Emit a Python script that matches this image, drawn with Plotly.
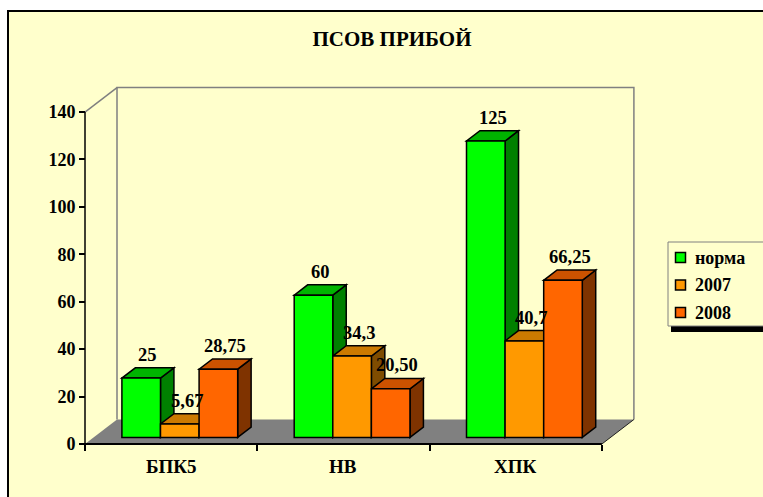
import plotly.graph_objects as go

# ---------------- data ----------------
categories = ["БПК5", "НВ", "ХПК"]
series_names = ["норма", "2007", "2008"]
norma = [25, 60, 125]
y2007 = [5.67, 34.3, 40.7]
y2008 = [28.75, 20.5, 66.25]
labels_norma = ["25", "60", "125"]
labels_2007 = ["5,67", "34,3", "40,7"]
labels_2008 = ["28,75", "20,50", "66,25"]
y_ticks = [0, 20, 40, 60, 80, 100, 120, 140]
title_text = "ПСОВ ПРИБОЙ"

series_values = [norma, y2007, y2008]
series_labels = [labels_norma, labels_2007, labels_2008]

# ---------------- styling / geometry ----------------
FRONT = ["#00FF00", "#FF9900", "#FF6600"]
TOP = ["#00B400", "#CC7A00", "#CC5200"]
SIDE = ["#008000", "#7F4C00", "#7F3300"]
BG = "#FFFFCC"
FONT = "Liberation Serif"

W, H = 763, 497              # figure size (page body margin removed below)
ORX, ORY = 85, 444           # pixel of data origin (front corner)
PPX, PPY = 172.3, 2.371      # pixels per data unit
L, RPX, TPX, BPX = 81, 637, 84, 448   # plot area box, pixels
pw, ph = RPX - L, BPX - TPX
xr = [(L - ORX) / PPX, (RPX - ORX) / PPX]
yr = [(ORY - BPX) / PPY, (ORY - TPX) / PPY]

DX, DY = 32 / PPX, 24.5 / PPY
F0, FD = 0.27, 0.42
ox, oy = F0 * DX, F0 * DY
bdx, bdy = FD * DX, FD * DY
BW = 0.224
ncat = len(categories)


def pxx(p):
    return (p - L) / pw


def pxy(p):
    return (BPX - p) / ph


fig = go.Figure()

shapes = []
# frame
shapes.append(dict(type="rect", xref="paper", yref="paper",
                   x0=pxx(8), x1=pxx(800), y0=pxy(11), y1=pxy(530),
                   fillcolor=BG, line=dict(color="black", width=2), layer="below"))
# floor
shapes.append(dict(type="path", xref="x", yref="y",
                   path=f"M 0,0 L {ncat},0 L {ncat+DX},{DY} L {DX},{DY} Z",
                   fillcolor="#808080", line=dict(width=0), layer="below"))
# back wall outline
top = y_ticks[-1]
shapes.append(dict(type="path", xref="x", yref="y",
                   path=f"M {DX},{DY} L {DX},{top+DY} L {ncat+DX},{top+DY} L {ncat+DX},{DY}",
                   line=dict(color="#808080", width=1.5), layer="below"))
shapes.append(dict(type="line", xref="x", yref="y", x0=0, y0=top, x1=DX, y1=top + DY,
                   line=dict(color="#808080", width=1.5), layer="below"))
shapes.append(dict(type="line", xref="x", yref="y", x0=ncat, y0=0, x1=ncat + DX, y1=DY,
                   line=dict(color="#202020", width=1), layer="below"))
# front axes
shapes.append(dict(type="line", xref="x", yref="y", x0=0, y0=0, x1=0, y1=top,
                   line=dict(color="black", width=1.5), layer="below"))
shapes.append(dict(type="line", xref="x", yref="y", x0=0, y0=0, x1=ncat, y1=0,
                   line=dict(color="black", width=2), layer="below"))

annotations = []
nser = len(series_values)
for i in range(ncat):
    for j in range(nser):
        v = series_values[j][i]
        xl = i + 0.5 + ox + (j - (nser - 1) / 2) * BW - BW / 2
        xrr = xl + BW
        y0, y1 = oy, oy + v
        # side face
        shapes.append(dict(type="path", xref="x", yref="y",
                           path=f"M {xrr},{y0} L {xrr+bdx},{y0+bdy} L {xrr+bdx},{y1+bdy} L {xrr},{y1} Z",
                           fillcolor=SIDE[j], line=dict(color="black", width=1.5), layer="below"))
        # top face
        shapes.append(dict(type="path", xref="x", yref="y",
                           path=f"M {xl},{y1} L {xrr},{y1} L {xrr+bdx},{y1+bdy} L {xl+bdx},{y1+bdy} Z",
                           fillcolor=TOP[j], line=dict(color="black", width=1.5), layer="below"))
        annotations.append(dict(x=(xl + xrr) / 2 + bdx / 2, y=y1 + bdy, xref="x", yref="y",
                                text=series_labels[j][i], showarrow=False, yanchor="bottom",
                                yshift=1,
                                font=dict(family=FONT, size=18.5, color="black", weight="bold")))

for j in range(nser):
    xs = [i + 0.5 + ox + (j - (nser - 1) / 2) * BW for i in range(ncat)]
    fig.add_trace(go.Bar(x=xs, y=series_values[j], base=oy, width=BW,
                         name=series_names[j], showlegend=False,
                         marker=dict(color=FRONT[j], line=dict(color="black", width=1.5)),
                         hoverinfo="skip"))

for i, c in enumerate(categories):
    annotations.append(dict(x=i + 0.5, y=0, xref="x", yref="y", text=c, showarrow=False,
                            yanchor="top", yshift=-10,
                            font=dict(family=FONT, size=19, color="black", weight="bold")))

# legend (box, shadow, swatches, names)
LEG_X0, LEG_Y0, LEG_Y1 = 668, 242, 326
ROW0, ROWSTEP = 257.5, 27.5
shapes.append(dict(type="rect", xref="paper", yref="paper",
                   x0=pxx(LEG_X0 + 3), x1=pxx(800), y0=pxy(LEG_Y1 + 6), y1=pxy(LEG_Y1),
                   fillcolor="black", line=dict(width=0), layer="above"))
shapes.append(dict(type="rect", xref="paper", yref="paper",
                   x0=pxx(LEG_X0), x1=pxx(800), y0=pxy(LEG_Y1), y1=pxy(LEG_Y0),
                   fillcolor=BG, line=dict(color="#808080", width=1), layer="above"))
for j, name in enumerate(series_names):
    cy = ROW0 + j * ROWSTEP
    shapes.append(dict(type="rect", xref="paper", yref="paper",
                       x0=pxx(675.5), x1=pxx(685.5), y0=pxy(cy + 5), y1=pxy(cy - 5),
                       fillcolor=FRONT[j], line=dict(color="black", width=1.5), layer="above"))
    annotations.append(dict(x=pxx(693), y=pxy(cy), xref="paper", yref="paper", text=name,
                            showarrow=False, xanchor="left", yanchor="middle",
                            font=dict(family=FONT, size=18, color="black", weight="bold")))

fig.update_layout(
    width=W, height=H,
    margin=dict(l=L, r=W - RPX, t=TPX, b=H - BPX, pad=0, autoexpand=False),
    paper_bgcolor="white",
    plot_bgcolor="rgba(0,0,0,0)",
    barmode="overlay",
    showlegend=False,
    title=dict(text=title_text, x=392 / W, xanchor="center",
               y=1 - 39 / H, yanchor="middle",
               xref="container", yref="container",
               font=dict(family=FONT, size=21, color="black", weight="bold")),
    xaxis=dict(range=xr, showgrid=False, zeroline=False, showline=False, automargin=False,
               tickvals=list(range(ncat + 1)), ticks="outside", ticklen=6, tickwidth=1.5,
               tickcolor="black", showticklabels=False, anchor="free",
               position=pxy(ORY), fixedrange=True),
    yaxis=dict(range=yr, showgrid=False, zeroline=False, showline=False, automargin=False,
               tickvals=y_ticks, ticks="outside", ticklen=6, tickwidth=1.5, tickcolor="black",
               tickfont=dict(family=FONT, size=18, color="black", weight="bold"),
               anchor="free", position=pxx(ORX), fixedrange=True),
    shapes=shapes,
    annotations=annotations,
)

fig.write_html(
    "out.html",
    config={"displayModeBar": False},
    post_script="document.body.style.margin='0';document.body.style.overflow='hidden';",
)
